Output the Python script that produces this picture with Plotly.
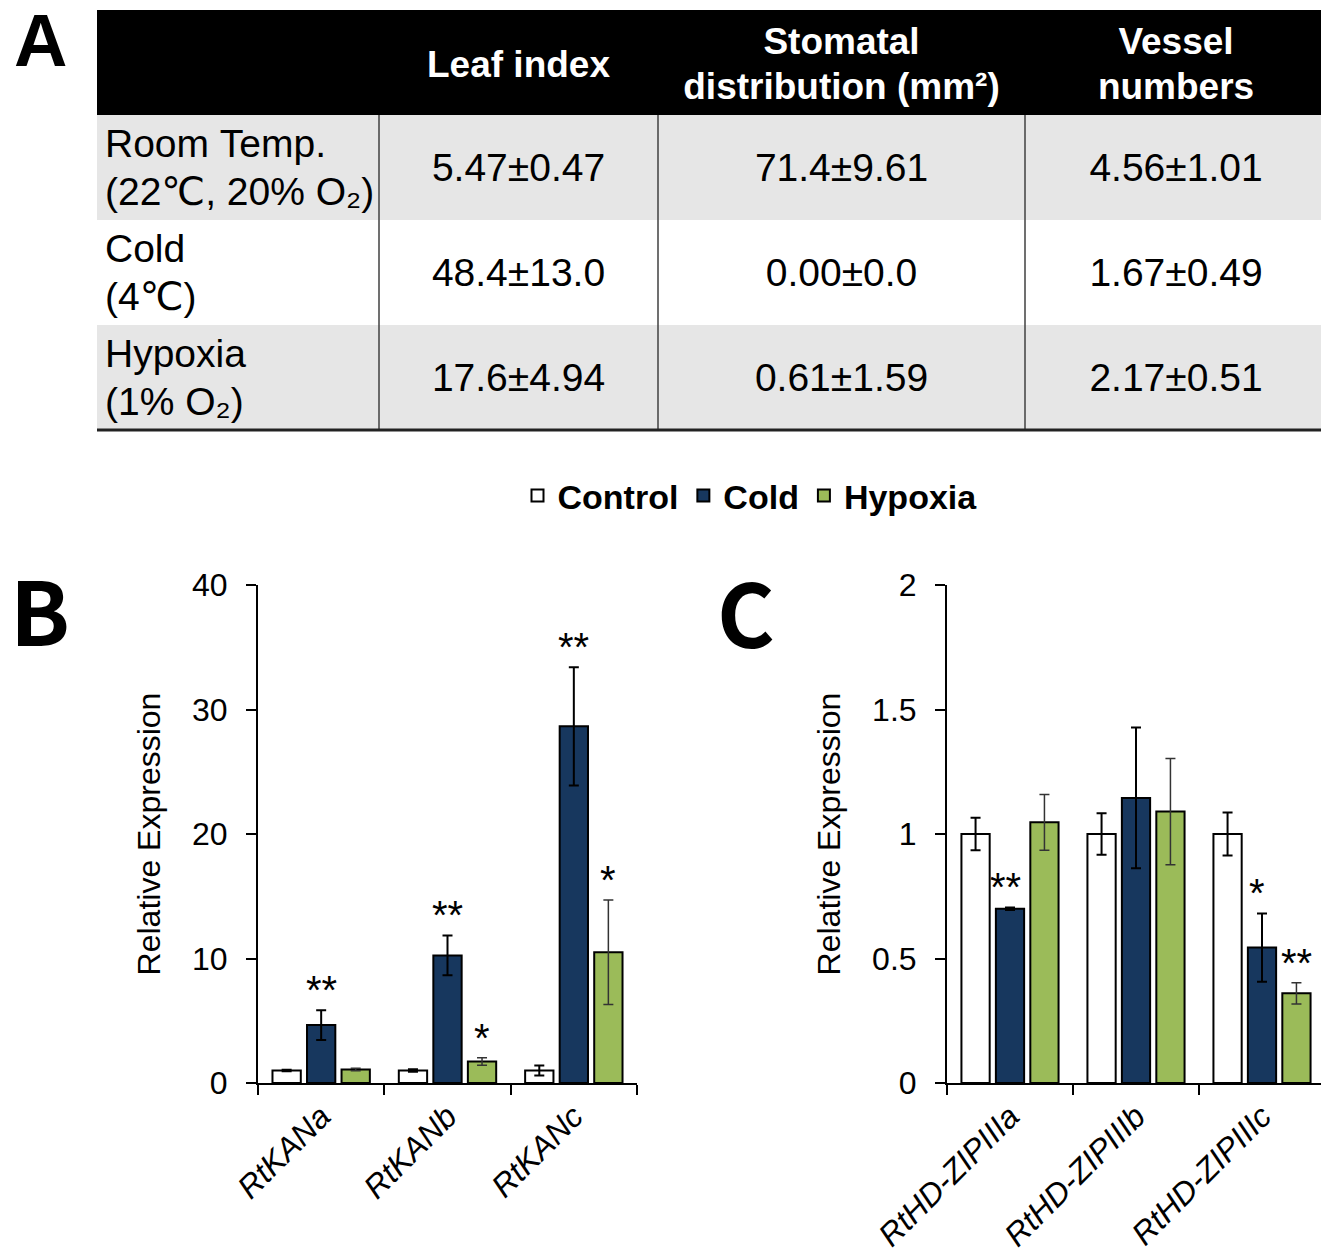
import plotly.graph_objects as go

# page body has an 8px margin: the figure is drawn at (8, 8) in the window
OFF = 8
W, H = 1329 - OFF, 1258 - OFF

def px(x):
    return (x - OFF) / W

def py(y):
    return 1 - (y - OFF) / H

# ---------------- Table A data ----------------
header_labels = ["", "Leaf index", "Stomatal<br>distribution (mm²)", "Vessel<br>numbers"]
row_labels = ["Room Temp.<br>(22℃, 20% O₂)", "Cold<br>(4℃)", "Hypoxia<br>(1% O₂)"]
leaf_index = ["5.47±0.47", "48.4±13.0", "17.6±4.94"]
stomatal = ["71.4±9.61", "0.00±0.0", "0.61±1.59"]
vessel = ["4.56±1.01", "1.67±0.49", "2.17±0.51"]

# ---------------- Panel B data ----------------
genes_B = ["RtKANa", "RtKANb", "RtKANc"]
ctrl_B = [1.0, 1.0, 1.0]
ctrl_B_err = [0.06, 0.1, 0.4]
cold_B = [4.65, 10.25, 28.65]
cold_B_err = [1.2, 1.6, 4.75]
hyp_B = [1.08, 1.72, 10.5]
hyp_B_err = [0.1, 0.3, 4.2]
sig_B_cold = ["**", "**", "**"]
sig_B_hyp = ["", "*", "*"]

# ---------------- Panel C data ----------------
genes_C = ["RtHD-ZIPIIIa", "RtHD-ZIPIIIb", "RtHD-ZIPIIIc"]
ctrl_C = [1.0, 1.0, 1.0]
ctrl_C_err = [0.065, 0.083, 0.086]
cold_C = [0.70, 1.145, 0.544]
cold_C_err = [0.005, 0.283, 0.137]
hyp_C = [1.047, 1.09, 0.36]
hyp_C_err = [0.112, 0.213, 0.043]
sig_C_cold = ["**", "", "*"]
sig_C_hyp = ["", "", "**"]

series_names = ["Control", "Cold", "Hypoxia"]
series_colors = ["white", "#17375E", "#9BBB59"]

# ---------------- styles ----------------
TFONT = "Liberation Sans, DejaVu Sans, Arial"
CFONT = "Liberation Sans, Arial"
LFONT = "Noto Sans CJK KR"
BARGAP = 0.18
BARGROUPGAP = 0.18
BODY_SIZE = 39
HEAD_SIZE = 37

# table geometry (reference px)
TAB_X0, TAB_X1 = 97, 1327
TAB_TOP = 10
HDR_H = 105
ROW_H = 105
col_widths = [282, 279, 367, 302]
row_fill = ["#E6E6E6", "white", "#E6E6E6"]
clear = "rgba(0,0,0,0)"

# vertical text placement inside cells (px below cell top, applied as table shift)
SH_HEAD_ONE, SH_HEAD_L1, SH_HEAD_L2 = 31, 8, 53
SH_BODY_ONE, SH_BODY_L1, SH_BODY_L2 = 29, 5, 53

fig = go.Figure()
tab_dom_x = [px(TAB_X0), px(TAB_X1)]
empty_col = ["", "", ""]
n_rows = len(row_labels)
NBSP = "\u00a0"


def part(s, which, keep_together=False):
    parts = s.split("<br>")
    if which == "one":
        out = s if len(parts) == 1 else ""
    elif len(parts) == 1:
        out = ""
    else:
        out = parts[0] if which == "l1" else parts[1]
    return out.replace(" ", NBSP) if keep_together else out


def add_table(hdr, cols, shift, fills=None, hfill=clear):
    top = TAB_TOP + shift
    fig.add_trace(go.Table(
        domain=dict(x=tab_dom_x, y=[py(top + HDR_H + n_rows * ROW_H + 20), py(top)]),
        columnwidth=col_widths,
        header=dict(values=hdr, fill_color=hfill, line_color=clear, height=HDR_H, align="center",
                    font=dict(family=TFONT, size=HEAD_SIZE, color="white", weight="bold")),
        cells=dict(values=cols, fill_color=fills if fills is not None else clear, line_color=clear,
                   height=ROW_H, align=["left", "center", "center", "center"],
                   font=dict(family=TFONT, size=BODY_SIZE, color="black")),
    ))


blank_hdr = ["", "", "", ""]
blank_cols = [empty_col] * 4
# fills
add_table(blank_hdr, blank_cols, 0, fills=[row_fill], hfill="black")
# header texts
add_table([part(h, "one") for h in header_labels], blank_cols, SH_HEAD_ONE)
add_table([part(h, "l1") for h in header_labels], blank_cols, SH_HEAD_L1)
add_table([part(h, "l2") for h in header_labels], blank_cols, SH_HEAD_L2)
# body texts
add_table(blank_hdr, [empty_col, leaf_index, stomatal, vessel], SH_BODY_ONE)
add_table(blank_hdr, [[part(r, "l1", True) for r in row_labels], empty_col, empty_col, empty_col], SH_BODY_L1)
add_table(blank_hdr, [[part(r, "l2", True) for r in row_labels], empty_col, empty_col, empty_col], SH_BODY_L2)

# table rules derived from the column widths
tot = sum(col_widths)
acc = 0
body_top = py(TAB_TOP + HDR_H)
body_bot = py(TAB_TOP + HDR_H + n_rows * ROW_H)
for wdt in col_widths[:-1]:
    acc += wdt
    xs = tab_dom_x[0] + (tab_dom_x[1] - tab_dom_x[0]) * acc / tot
    fig.add_shape(type="line", xref="paper", yref="paper", x0=xs, x1=xs, y0=body_bot, y1=body_top,
                  line=dict(color="#404040", width=1.5))
fig.add_shape(type="line", xref="paper", yref="paper", x0=tab_dom_x[0], x1=tab_dom_x[1],
              y0=body_bot, y1=body_bot, line=dict(color="#222222", width=3))

# ---------------- bar charts ----------------
def add_panel(genes, vals, errs, xa, ya, show):
    for k in range(3):
        ec = "#333333" if k == 2 else "black"
        et = 1.5 if k == 2 else 2
        fig.add_trace(go.Bar(
            x=genes, y=vals[k], name=series_names[k], legendgroup=series_names[k], showlegend=show,
            marker=dict(color=series_colors[k], line=dict(color="black", width=2)),
            error_y=dict(type="data", array=errs[k], color=ec, thickness=et, width=5),
            xaxis=xa, yaxis=ya,
        ))

add_panel(genes_B, [ctrl_B, cold_B, hyp_B], [ctrl_B_err, cold_B_err, hyp_B_err], "x", "y", True)
add_panel(genes_C, [ctrl_C, cold_C, hyp_C], [ctrl_C_err, cold_C_err, hyp_C_err], "x2", "y2", False)

slot = (1 - BARGAP) / 3
def add_sig(vals, errs, sigs, offset, xref, yref, xshift=0):
    for i, s in enumerate(sigs):
        if s:
            fig.add_annotation(x=i + offset, y=vals[i] + errs[i], xref=xref, yref=yref, text=s,
                               showarrow=False, yanchor="bottom", xanchor="center", xshift=xshift,
                               yshift=-4, font=dict(family=CFONT, size=40, color="black"))

add_sig(cold_B, cold_B_err, sig_B_cold, 0, "x", "y")
add_sig(hyp_B, hyp_B_err, sig_B_hyp, slot, "x", "y")
add_sig(cold_C, cold_C_err, sig_C_cold, 0, "x2", "y2", xshift=-5)
add_sig(hyp_C, hyp_C_err, sig_C_hyp, slot, "x2", "y2")

y_dom = [py(1083), py(585)]
xaxis_common = dict(showline=True, linecolor="black", linewidth=2, ticks="outside", tickson="boundaries",
                    ticklen=10, tickwidth=2, tickcolor="black", tickangle=-45, showgrid=False,
                    tickfont=dict(family=CFONT, size=32, color="black", style="italic"),
                    automargin=False, fixedrange=True)
yaxis_common = dict(showline=True, linecolor="black", linewidth=2, ticks="outside", ticklen=10,
                    tickwidth=2, tickcolor="black", showgrid=False, zeroline=False,
                    tickfont=dict(family=CFONT, size=32, color="black"), ticklabelstandoff=12,
                    title=dict(text="Relative Expression", font=dict(family=CFONT, size=32, color="black"),
                               standoff=22),
                    automargin=False, domain=y_dom, fixedrange=True)

fig.update_layout(
    width=W, height=H, margin=dict(l=0, r=0, t=0, b=0),
    paper_bgcolor="white", plot_bgcolor="rgba(0,0,0,0)",
    barmode="group", bargap=BARGAP, bargroupgap=BARGROUPGAP,
    xaxis=dict(domain=[px(258), px(637)], anchor="y", **xaxis_common),
    yaxis=dict(anchor="x", range=[0, 40], dtick=10, **yaxis_common),
    xaxis2=dict(domain=[px(947), px(1325)], anchor="y2", **xaxis_common),
    yaxis2=dict(anchor="x2", range=[0, 2], dtick=0.5, **yaxis_common),
    legend=dict(orientation="h", x=px(750), y=py(496), xanchor="center", yanchor="middle",
                font=dict(family=CFONT, size=34, color="black", weight="bold"),
                bgcolor="rgba(0,0,0,0)", traceorder="normal"),
)

# panel letters
letters = {"A": (40, 41, 74, CFONT), "B": (40, 607, 88, LFONT), "C": (746, 609, 88, LFONT)}
for letter, (cx, cy, sz, fam) in letters.items():
    fig.add_annotation(x=px(cx), y=py(cy), xref="paper", yref="paper", text="<b>" + letter + "</b>",
                       showarrow=False, xanchor="center", yanchor="middle",
                       font=dict(family=fam, size=sz, color="black"))

fig.write_html("out.html")
